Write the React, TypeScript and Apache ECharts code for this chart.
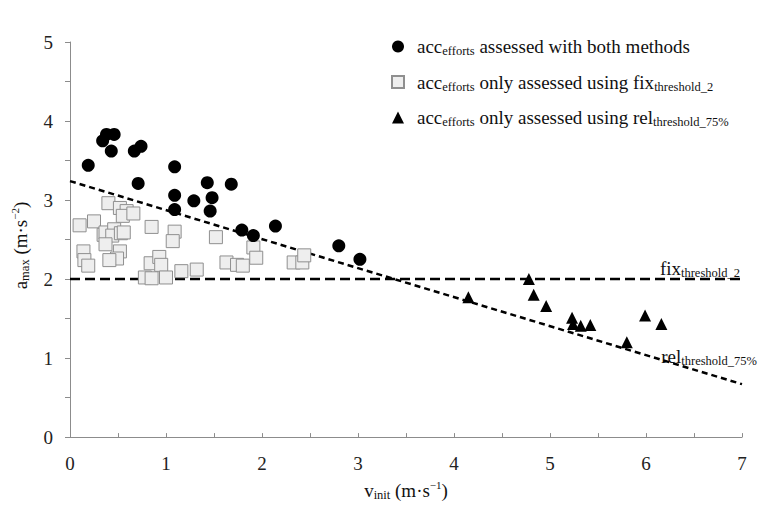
import React, { useEffect, useRef } from "react";
import * as echarts from "echarts";

const bothMethods: [number, number][] = [
  [0.19, 3.44], [0.34, 3.75], [0.38, 3.83], [0.46, 3.83], [0.43, 3.62],
  [0.67, 3.62], [0.74, 3.68], [0.71, 3.21], [1.09, 3.42], [1.09, 3.06],
  [1.09, 2.88], [1.29, 2.99], [1.43, 3.22], [1.48, 3.03], [1.46, 2.86],
  [1.68, 3.2], [1.79, 2.62], [1.91, 2.55], [2.14, 2.67], [2.8, 2.42],
  [3.02, 2.25],
];

const onlyFix: [number, number][] = [
  [0.1, 2.68], [0.25, 2.73], [0.14, 2.35], [0.15, 2.24], [0.19, 2.17],
  [0.4, 2.96], [0.52, 2.9], [0.59, 2.86], [0.55, 2.8], [0.66, 2.83],
  [0.35, 2.56], [0.37, 2.59], [0.46, 2.63], [0.44, 2.55], [0.53, 2.58],
  [0.56, 2.59], [0.37, 2.44], [0.52, 2.35], [0.49, 2.26], [0.41, 2.24],
  [0.85, 2.66], [0.84, 2.2], [0.93, 2.28], [0.95, 2.18], [0.78, 2.02],
  [0.85, 2.01], [1.0, 2.02], [1.09, 2.6], [1.07, 2.48], [1.16, 2.1],
  [1.32, 2.12], [1.52, 2.53], [1.63, 2.21], [1.74, 2.18], [1.8, 2.17],
  [1.91, 2.4], [1.94, 2.27], [2.33, 2.21], [2.42, 2.21], [2.44, 2.3],
];

const onlyRel: [number, number][] = [
  [4.15, 1.77], [4.78, 2.0], [4.83, 1.8], [4.96, 1.66], [5.23, 1.51],
  [5.24, 1.43], [5.32, 1.41], [5.42, 1.42], [5.8, 1.2], [5.99, 1.54],
  [6.16, 1.43],
];

const fixThresholdLine: [number, number][] = [[0, 2], [7, 2]];
const relThresholdLine: [number, number][] = [[0, 3.24], [7, 0.67]];

const xTickLabels = ["0", "1", "2", "3", "4", "5", "6", "7"];
const yTickLabels = ["0", "1", "2", "3", "4", "5"];

const TXT = "Times New Roman";

const NAME_BOTH = "both";
const NAME_FIX = "fix";
const NAME_REL = "rel";

const legendText: Record<string, string> = {
  [NAME_BOTH]: "{m|acc}{s|efforts}{m| assessed with both methods}",
  [NAME_FIX]: "{m|acc}{s|efforts}{m| only assessed using fix}{s|threshold_2}",
  [NAME_REL]: "{m|acc}{s|efforts}{m| only assessed using rel}{s|threshold_75%}",
};

const subRich = {
  m: { fontFamily: TXT, fontSize: 19, color: "#111", lineHeight: 24, verticalAlign: "middle" as const },
  s: { fontFamily: TXT, fontSize: 12.5, color: "#111", lineHeight: 24, verticalAlign: "bottom" as const, padding: [0, 0, 1, 0] },
  p: { fontFamily: TXT, fontSize: 11, color: "#111", lineHeight: 24, verticalAlign: "top" as const, padding: [1, 0, 0, 0] },
};

export default function App() {
  const ref = useRef<HTMLDivElement>(null);

  useEffect(() => {
    if (!ref.current) return;
    const chart = echarts.init(ref.current, undefined, { renderer: "svg" });
    const axisColor = "#8c8c8c";
    const option: any = {
      animation: false,
      backgroundColor: "#fff",
      grid: { left: 64, right: 26, top: 42, bottom: 65, containLabel: false },
      legend: {
        data: [NAME_BOTH, NAME_FIX, NAME_REL],
        orient: "vertical",
        left: 386,
        top: 32,
        itemWidth: 12,
        itemHeight: 12,
        itemGap: 14,
        formatter: (n: string) => legendText[n],
        textStyle: { fontFamily: TXT, color: "#111", rich: subRich, padding: [0, 0, 0, 8] },
        selectedMode: false,
      },
      xAxis: {
        type: "value",
        min: 0,
        max: 7,
        interval: 0.5,
        axisLine: { show: true, onZero: false, lineStyle: { color: axisColor, width: 1 } },
        axisTick: { show: true, inside: true, length: 4, lineStyle: { color: axisColor } },
        splitLine: { show: false },
        axisLabel: {
          margin: 17,
          fontFamily: TXT,
          fontSize: 19,
          color: "#222",
          formatter: (v: number) => (Number.isInteger(v) ? xTickLabels[v] : ""),
        },
        name: "{m|v}{s|init}{m| (m·s}{p|−1}{m|)}",
        nameLocation: "middle",
        nameGap: 38,
        nameTextStyle: { fontFamily: TXT, color: "#111", rich: subRich },
      },
      yAxis: {
        type: "value",
        min: 0,
        max: 5,
        interval: 0.5,
        axisLine: { show: true, onZero: false, lineStyle: { color: axisColor, width: 1 } },
        axisTick: { show: true, length: 5, lineStyle: { color: axisColor } },
        splitLine: { show: false },
        axisLabel: {
          margin: 17,
          fontFamily: TXT,
          fontSize: 19,
          color: "#222",
          formatter: (v: number) => (Number.isInteger(v) ? yTickLabels[v] : ""),
        },
        name: "{m|a}{s|max}{m| (m·s}{p|−2}{m|)}",
        nameLocation: "middle",
        nameGap: 38,
        nameRotate: 90,
        nameTextStyle: { fontFamily: TXT, color: "#111", rich: subRich, padding: [0, 12, 0, 0] },
      },
      series: [
        {
          name: "fixLine",
          type: "line",
          data: fixThresholdLine,
          symbol: "none",
          lineStyle: { color: "#000", width: 2.5, type: [10, 5] },
          z: 1,
          silent: true,
        },
        {
          name: "relLine",
          type: "line",
          data: relThresholdLine,
          symbol: "none",
          lineStyle: { color: "#000", width: 2.5, type: [6, 4] },
          z: 1,
          silent: true,
        },
        {
          name: NAME_FIX,
          type: "scatter",
          data: onlyFix,
          symbol: "rect",
          symbolSize: 13,
          itemStyle: { color: "#eeeeee", borderColor: "#8f8f8f", borderWidth: 1, opacity: 1 },
          z: 2,
        },
        {
          name: NAME_BOTH,
          type: "scatter",
          data: bothMethods,
          symbol: "circle",
          symbolSize: 13,
          itemStyle: { color: "#000", opacity: 1 },
          z: 3,
        },
        {
          name: NAME_REL,
          type: "scatter",
          data: onlyRel,
          symbol: "triangle",
          symbolSize: 12,
          itemStyle: { color: "#000", opacity: 1 },
          z: 3,
        },
      ],
      graphic: [
        {
          type: "text",
          x: 740,
          y: 268,
          style: {
            text: "{m|fix}{s|threshold_2}",
            rich: subRich,
            fill: "#111",
            align: "right",
            verticalAlign: "middle",
          },
        },
        {
          type: "text",
          x: 757,
          y: 356,
          style: {
            text: "{m|rel}{s|threshold_75%}",
            rich: subRich,
            fill: "#111",
            align: "right",
            verticalAlign: "middle",
          },
        },
      ],
    };
    chart.setOption(option);
    return () => chart.dispose();
  }, []);

  return (
    <div
      ref={ref}
      style={{ position: "fixed", left: 0, top: 0, width: 768, height: 507 }}
    />
  );
}
